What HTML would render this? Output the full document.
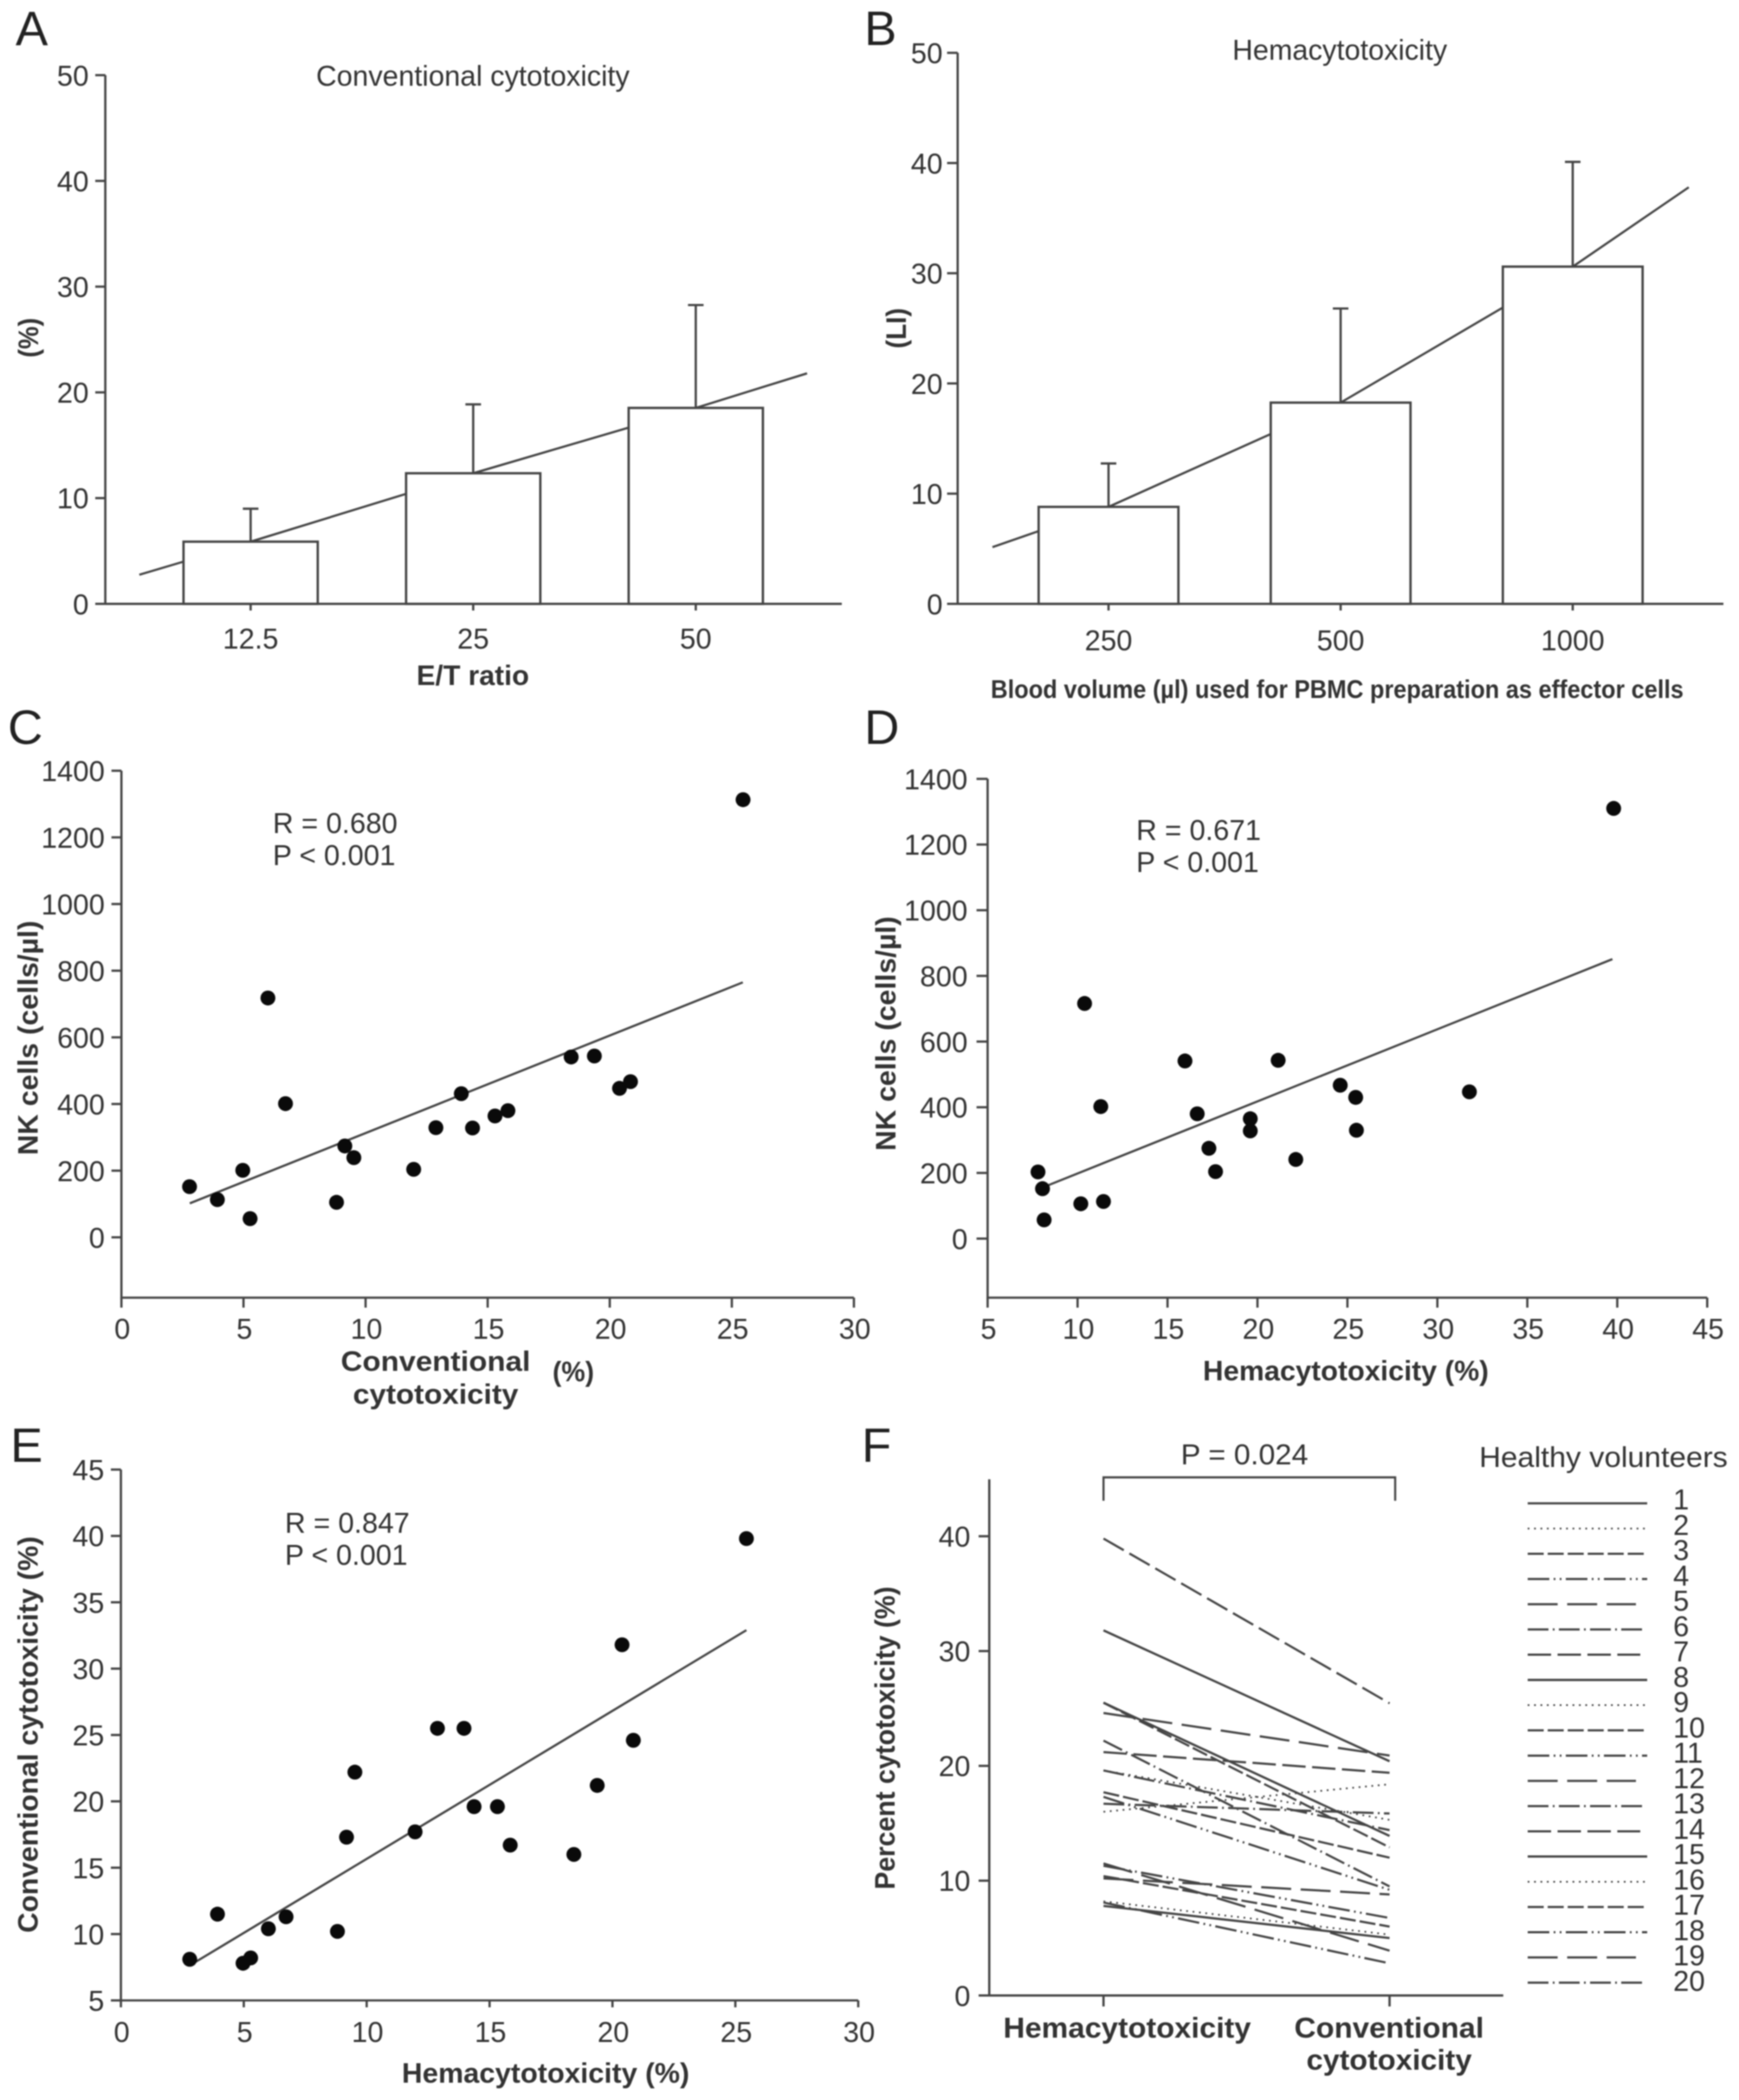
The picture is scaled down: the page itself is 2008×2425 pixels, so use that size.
<!DOCTYPE html>
<html lang="en">
<head>
<meta charset="utf-8">
<title>Cytotoxicity figure panels A-F</title>
<style>
html,body{margin:0;padding:0;background:#fff;}
#figure{display:block;filter:blur(0.7px);}
text{font-family:"Liberation Sans",Arial,sans-serif;fill:#333;}
.tick{font-size:33px;}
.title{font-size:33px;}
.axis-title{font-size:32px;font-weight:bold;}
.letter{font-size:56px;fill:#222;}
</style>
</head>
<body>
<svg id="figure" xmlns="http://www.w3.org/2000/svg" width="2008" height="2425" viewBox="0 0 2008 2425">
  <rect x="0" y="0" width="2008" height="2425" fill="#fff"/>

  <g id="panelA">
    <text class="letter" x="18" y="52">A</text>
    <text class="title" x="546" y="99" text-anchor="middle" textLength="362" lengthAdjust="spacingAndGlyphs">Conventional cytotoxicity</text>
    <text class="axis-title" transform="rotate(-90 44 390)" x="44" y="390" text-anchor="middle" textLength="46" lengthAdjust="spacingAndGlyphs">(%)</text>
    <text class="axis-title" x="546" y="791" text-anchor="middle" textLength="130" lengthAdjust="spacingAndGlyphs">E/T ratio</text>
  </g>

  <g id="panelB">
    <text class="letter" x="998" y="52">B</text>
    <text class="title" x="1547" y="69" text-anchor="middle" textLength="248" lengthAdjust="spacingAndGlyphs">Hemacytotoxicity</text>
    <text class="axis-title" transform="rotate(-90 1046 379)" x="1046" y="379" text-anchor="middle" textLength="47" lengthAdjust="spacingAndGlyphs">(LI)</text>
    <text class="axis-title" style="font-size:30px" x="1544" y="806" text-anchor="middle" textLength="800" lengthAdjust="spacingAndGlyphs">Blood volume (µl) used for PBMC preparation as effector cells</text>
  </g>

  <g id="panelC">
    <text class="letter" x="9" y="859">C</text>
    <text class="title" x="315" y="962">R = 0.680</text>
    <text class="title" x="315" y="999">P &lt; 0.001</text>
    <text class="axis-title" transform="rotate(-90 43.5 1198.5)" x="43.5" y="1198.5" text-anchor="middle" textLength="271" lengthAdjust="spacingAndGlyphs">NK cells (cells/µl)</text>
    <text class="axis-title" x="503" y="1583" text-anchor="middle" textLength="219" lengthAdjust="spacingAndGlyphs">Conventional</text>
    <text class="axis-title" x="503" y="1621" text-anchor="middle" textLength="191" lengthAdjust="spacingAndGlyphs">cytotoxicity</text>
    <text class="axis-title" x="662" y="1595" text-anchor="middle" textLength="48" lengthAdjust="spacingAndGlyphs">(%)</text>
  </g>

  <g id="panelD">
    <text class="letter" x="998" y="859">D</text>
    <text class="title" x="1312" y="970">R = 0.671</text>
    <text class="title" x="1312" y="1007">P &lt; 0.001</text>
    <text class="axis-title" transform="rotate(-90 1034 1193.5)" x="1034" y="1193.5" text-anchor="middle" textLength="271" lengthAdjust="spacingAndGlyphs">NK cells (cells/µl)</text>
    <text class="axis-title" x="1554" y="1594" text-anchor="middle" textLength="330" lengthAdjust="spacingAndGlyphs">Hemacytotoxicity (%)</text>
  </g>

  <g id="panelE">
    <text class="letter" x="12" y="1688">E</text>
    <text class="title" x="329" y="1770">R = 0.847</text>
    <text class="title" x="329" y="1807">P &lt; 0.001</text>
    <text class="axis-title" transform="rotate(-90 43.5 2003)" x="43.5" y="2003" text-anchor="middle" textLength="458" lengthAdjust="spacingAndGlyphs">Conventional cytotoxicity (%)</text>
    <text class="axis-title" x="630" y="2405" text-anchor="middle" textLength="332" lengthAdjust="spacingAndGlyphs">Hemacytotoxicity (%)</text>
  </g>

  <g id="panelF">
    <text class="letter" x="995" y="1688">F</text>
    <text class="title" x="1437" y="1691" text-anchor="middle" textLength="147" lengthAdjust="spacingAndGlyphs">P = 0.024</text>
    <text class="title" x="1851.5" y="1694" text-anchor="middle" textLength="287" lengthAdjust="spacingAndGlyphs">Healthy volunteers</text>
    <text class="axis-title" transform="rotate(-90 1033 2007)" x="1033" y="2007" text-anchor="middle" textLength="350" lengthAdjust="spacingAndGlyphs">Percent cytotoxicity (%)</text>
    <text class="axis-title" style="font-size:33px" x="1301.5" y="2353" text-anchor="middle" textLength="286" lengthAdjust="spacingAndGlyphs">Hemacytotoxicity</text>
    <text class="axis-title" style="font-size:33px" x="1604" y="2353" text-anchor="middle" textLength="219" lengthAdjust="spacingAndGlyphs">Conventional</text>
    <text class="axis-title" style="font-size:33px" x="1604" y="2390" text-anchor="middle" textLength="191" lengthAdjust="spacingAndGlyphs">cytotoxicity</text>
  </g>
</svg>

<script>
// Panel A
const aCategories = ['12.5', '25', '50'];
const aValues = [5.88, 12.35, 18.53];
const aErrorTops = [9.0, 18.87, 28.26];
const aTrend = [2.75, 5.88, 12.35, 18.53, 21.8];
const aYTicks = [0, 10, 20, 30, 40, 50];

// Panel B
const bCategories = ['250', '500', '1000'];
const bValues = [8.8, 18.26, 30.6];
const bErrorTops = [12.74, 26.8, 40.1];
const bTrend = [5.15, 8.8, 18.26, 30.6, 37.8];
const bYTicks = [0, 10, 20, 30, 40, 50];

// Panel C
const cX = [2.79, 3.93, 4.97, 5.27, 6.0, 6.72, 8.81, 9.15, 9.52, 11.97, 12.88, 13.92, 14.38, 15.3, 15.83, 18.42, 19.37, 20.4, 20.85, 25.46];
const cY = [152, 113, 201, 56, 718, 401, 105, 274, 239, 204, 329, 431, 328, 364, 380, 541, 544, 447, 467, 1313];
const cTrendX = [2.8, 25.45];
const cTrendY = [102, 765];
const cXTicks = [0, 5, 10, 15, 20, 25, 30];
const cYTicks = [0, 200, 400, 600, 800, 1000, 1200, 1400];

// Panel D
const dX = [7.8, 8.05, 8.14, 10.18, 10.39, 11.29, 11.44, 15.97, 16.65, 17.3, 17.67, 19.6, 19.6, 21.15, 22.13, 24.6, 25.46, 25.5, 31.78, 39.8];
const dY = [203, 152, 57, 106, 716, 402, 113, 541, 380, 275, 204, 365, 328, 543, 241, 467, 430, 330, 447, 1310];
const dTrendX = [8.3, 39.73];
const dTrendY = [161, 851];
const dXTicks = [5, 10, 15, 20, 25, 30, 35, 40, 45];
const dYTicks = [0, 200, 400, 600, 800, 1000, 1200, 1400];

// Panel E
const eX = [2.8, 3.93, 4.97, 5.28, 6.0, 6.72, 8.81, 9.18, 9.52, 11.97, 12.88, 13.96, 14.37, 15.32, 15.84, 18.43, 19.38, 20.39, 20.85, 25.45];
const eY = [8.1, 11.5, 7.8, 8.2, 10.4, 11.3, 10.2, 17.3, 22.2, 17.7, 25.5, 25.5, 19.6, 19.6, 16.7, 16.0, 21.2, 31.8, 24.6, 39.8];
const eTrendX = [2.95, 25.45];
const eTrendY = [7.8, 32.9];
const eXTicks = [0, 5, 10, 15, 20, 25, 30];
const eYTicks = [5, 10, 15, 20, 25, 30, 35, 40, 45];

// Panel F (paired values, in legend order)
const fVolunteers = ['1','2','3','4','5','6','7','8','9','10','11','12','13','14','15','16','17','18','19','20'];
const fHema = [7.8, 8.2, 10.4, 8.1, 10.2, 19.6, 39.8, 31.8, 19.6, 25.5, 17.3, 24.6, 16.7, 21.2, 25.5, 16.0, 17.7, 11.3, 11.5, 22.2];
const fConv = [5.0, 5.3, 6.0, 2.8, 8.8, 14.4, 25.45, 20.4, 15.3, 12.9, 9.2, 20.9, 15.85, 19.4, 13.9, 18.4, 12.0, 6.75, 3.9, 9.5];
const fYTicks = [0, 10, 20, 30, 40];

const SVGNS = 'http://www.w3.org/2000/svg';
const INK = '#444';

function linear(d0, d1, r0, r1) {
  return function (v) { return r0 + (v - d0) * (r1 - r0) / (d1 - d0); };
}

function create(tag, parent, attrs) {
  const el = document.createElementNS(SVGNS, tag);
  for (const k in attrs) el.setAttribute(k, attrs[k]);
  parent.appendChild(el);
  return el;
}

function stroke(parent, x1, y1, x2, y2, name, width, dash) {
  const attrs = { x1: x1, y1: y1, x2: x2, y2: y2, stroke: INK, 'stroke-width': width || 2.6 };
  if (dash) attrs['stroke-dasharray'] = dash;
  const el = create('line', parent, attrs);
  
  
  return el;
}

function label(parent, x, y, str, anchor, name) {
  const el = create('text', parent, { x: x, y: y, 'text-anchor': anchor, class: 'tick' });
  el.textContent = str;
  
  
  return el;
}

function drawYAxis(parent, ticks, y, spec, prefix) {
  stroke(parent, spec.x, spec.top, spec.x, spec.bottom + 1.2, prefix + '-y-axis-line');
  ticks.forEach(function (t) {
    stroke(parent, spec.tickLeft, y(t), spec.x, y(t), prefix + '-y-tick-' + t);
    label(parent, spec.labelRight, y(t) + 12, String(t), 'end', prefix + '-y-tick-label-' + t);
  });
}

function drawXAxisLine(parent, spec, prefix) {
  stroke(parent, spec.left, spec.y, spec.right, spec.y, prefix + '-x-axis-line');
}

function drawXTicks(parent, ticks, x, spec, prefix) {
  ticks.forEach(function (t) {
    stroke(parent, x(t), spec.y, x(t), spec.tickBottom, prefix + '-x-tick-' + t);
    label(parent, x(t) + 1, spec.labelY, String(t), 'middle', prefix + '-x-tick-label-' + t);
  });
}

function drawBarPanel(cfg) {
  const g = document.getElementById(cfg.group);
  const y = linear(0, 50, cfg.y0, cfg.y50);
  const x = linear(0, 1, cfg.cat0, cfg.cat0 + cfg.catStep);
  const n = cfg.categories.length;
  const pos = [-0.5];
  cfg.categories.forEach(function (c, i) { pos.push(i); });
  pos.push(n - 0.5);
  const pts = cfg.trend.map(function (v, i) { return x(pos[i]) + ',' + y(v); }).join(' ');
  const trend = create('polyline', g, { points: pts, fill: 'none', stroke: INK, 'stroke-width': 2.5 });
  
  
  cfg.values.forEach(function (v, i) {
    const bar = create('rect', g, {
      x: x(i) - cfg.half, y: y(v), width: cfg.half * 2, height: y(0) - y(v),
      fill: '#fff', stroke: INK, 'stroke-width': 2.7
    });
    
    
    stroke(g, x(i), y(v), x(i), y(cfg.errors[i]), cfg.prefix + '-error-bar-' + cfg.categories[i]);
    stroke(g, x(i) - 9, y(cfg.errors[i]), x(i) + 9, y(cfg.errors[i]), cfg.prefix + '-error-cap-' + cfg.categories[i]);
    stroke(g, x(i), y(0), x(i), cfg.tickBottom, cfg.prefix + '-x-tick-' + cfg.categories[i]);
    label(g, x(i), cfg.labelY, cfg.categories[i], 'middle', cfg.prefix + '-x-tick-label-' + cfg.categories[i]);
  });
  drawXAxisLine(g, { left: cfg.axisX, right: cfg.right, y: y(0) }, cfg.prefix);
  drawYAxis(g, cfg.yTicks, y, { x: cfg.axisX, top: y(50), bottom: y(0), tickLeft: cfg.tickLeft, labelRight: cfg.labelRight }, cfg.prefix);
}

function drawScatterPanel(cfg) {
  const g = document.getElementById(cfg.group);
  const x = cfg.x;
  const y = cfg.y;
  stroke(g, x(cfg.trendX[0]), y(cfg.trendY[0]), x(cfg.trendX[1]), y(cfg.trendY[1]), cfg.prefix + '-trend-line', 2.5);
  cfg.xs.forEach(function (v, i) {
    const dot = create('circle', g, { cx: x(v), cy: y(cfg.ys[i]), r: 8.6, fill: '#0a0a0a' });
    
    
  });
  const xSpec = { left: cfg.axisX, right: cfg.right, y: cfg.bottom, tickBottom: cfg.tickBottom, labelY: cfg.labelY };
  drawXAxisLine(g, xSpec, cfg.prefix);
  drawXTicks(g, cfg.xTicks, x, xSpec, cfg.prefix);
  drawYAxis(g, cfg.yTicks, y, { x: cfg.axisX, top: cfg.top, bottom: cfg.bottom, tickLeft: cfg.tickLeft, labelRight: cfg.labelRight }, cfg.prefix);
}

drawBarPanel({
  group: 'panelA', prefix: 'panel-a', categories: aCategories, values: aValues, errors: aErrorTops,
  trend: aTrend, yTicks: aYTicks, y0: 697.3, y50: 86.8, cat0: 289.4, catStep: 257, half: 77.5,
  axisX: 121.6, right: 972, tickLeft: 110, labelRight: 102.5, tickBottom: 705, labelY: 749
});

drawBarPanel({
  group: 'panelB', prefix: 'panel-b', categories: bCategories, values: bValues, errors: bErrorTops,
  trend: bTrend, yTicks: bYTicks, y0: 697.3, y50: 61, cat0: 1280, catStep: 268, half: 80.7,
  axisX: 1105.8, right: 1990, tickLeft: 1093.6, labelRight: 1088.5, tickBottom: 705, labelY: 751
});

drawScatterPanel({
  group: 'panelC', prefix: 'panel-c', xs: cX, ys: cY, trendX: cTrendX, trendY: cTrendY,
  xTicks: cXTicks, yTicks: cYTicks,
  x: linear(0, 30, 140.2, 986), y: linear(0, 1400, 1428.8, 890),
  axisX: 140.2, right: 986, top: 890, bottom: 1498.5, tickLeft: 128.7, labelRight: 121,
  tickBottom: 1510, labelY: 1546
});

drawScatterPanel({
  group: 'panelD', prefix: 'panel-d', xs: dX, ys: dY, trendX: dTrendX, trendY: dTrendY,
  xTicks: dXTicks, yTicks: dYTicks,
  x: linear(5, 45, 1140.4, 1971.3), y: linear(0, 1400, 1430.3, 899.4),
  axisX: 1140.4, right: 1971.3, top: 899.4, bottom: 1498.5, tickLeft: 1127.6, labelRight: 1117.3,
  tickBottom: 1510, labelY: 1546
});

drawScatterPanel({
  group: 'panelE', prefix: 'panel-e', xs: eX, ys: eY, trendX: eTrendX, trendY: eTrendY,
  xTicks: eXTicks, yTicks: eYTicks,
  x: linear(0, 30, 139.6, 991), y: linear(5, 45, 2310, 1697),
  axisX: 139.6, right: 991, top: 1697, bottom: 2310, tickLeft: 128, labelRight: 120.4,
  tickBottom: 2318, labelY: 2358
});

(function drawPanelF() {
  const g = document.getElementById('panelF');
  const y = linear(0, 40, 2304.3, 1774);
  const hemaX = 1274.2;
  const convX = 1604.5;
  const axisX = 1142.3;
  const styles = [
    { dash: '', w: 2.6, len: 138 },
    { dash: '2 5.4', w: 2, len: 138 },
    { dash: '18.5 4.6', w: 2.5, len: 138 },
    { dash: '25 5 2 5 2 5', w: 2.5, len: 138 },
    { dash: '34.6 11', w: 2.5, len: 125 },
    { dash: '24 5 2 5', w: 2.5, len: 133 },
    { dash: '27 7.5', w: 2.5, len: 130 }
  ];

  fHema.forEach(function (h, i) {
    const s = styles[i % styles.length];
    stroke(g, hemaX, y(h), convX, y(fConv[i]), 'volunteer-line-' + fVolunteers[i], s.w, s.dash);
  });

  stroke(g, hemaX, y(0), hemaX, 2317, 'panel-f-x-tick-hemacytotoxicity');
  stroke(g, convX, y(0), convX, 2317, 'panel-f-x-tick-conventional');
  drawXAxisLine(g, { left: axisX, right: 1735.8, y: y(0) }, 'panel-f');
  drawYAxis(g, fYTicks, y, { x: axisX, top: 1708.3, bottom: y(0), tickLeft: 1130, labelRight: 1120.5 }, 'panel-f');

  const bracket = create('path', g, { d: 'M1274.2 1733V1706H1611V1733', fill: 'none', stroke: INK, 'stroke-width': 2.4 });
  
  

  const legendRow = linear(0, 19, 1736, 2289.5);
  const legendText = linear(0, 19, 1743, 2299);
  fVolunteers.forEach(function (name, i) {
    const s = styles[i % styles.length];
    stroke(g, 1764, legendRow(i), 1764 + s.len, legendRow(i), 'legend-line-' + name, s.w, s.dash);
    label(g, 1932, legendText(i), name, 'start', 'legend-label-' + name);
  });
})();
</script>
</body>
</html>
